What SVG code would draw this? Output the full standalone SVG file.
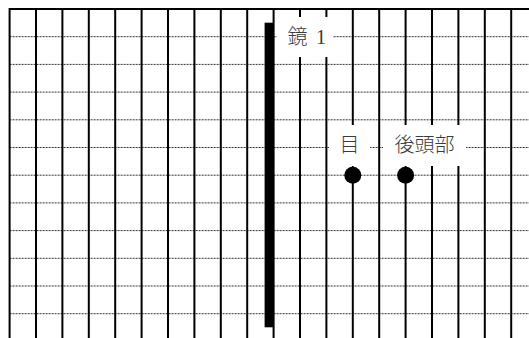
<svg xmlns="http://www.w3.org/2000/svg" width="529" height="338" viewBox="0 0 529 338">
<style>
.v{stroke:#000;stroke-width:2;fill:none}
.h{stroke:#333;stroke-width:1;stroke-dasharray:2 1;fill:none}
.box{fill:#fff;stroke:none}
.lbl{font-family:"Liberation Serif","Noto Sans CJK JP",serif;font-size:20px;font-weight:300;fill:#3a3a3a;text-anchor:middle}
.lbl.st{text-anchor:start}
.dot{fill:#000}
</style>
<rect width="529" height="338" fill="#fff"/>
<g id="grid">
<path class="h" d="M9.6 36.7H529M9.6 64.4H529M9.6 92.1H529M9.6 119.8H529M9.6 147.5H529M9.6 175.2H529M9.6 202.9H529M9.6 230.6H529M9.6 258.3H529M9.6 286H529M9.6 313.7H529"/>
<path class="v" d="M8.6 9H529M9.6 9V338M36 9V338M62.4 9V338M88.8 9V338M115.2 9V338M141.6 9V338M168 9V338M194.4 9V338M220.8 9V338M247.2 9V338M273.6 9V338M300 9V338M326.4 9V338M352.8 9V338M379.2 9V338M405.6 9V338M432 9V338M458.4 9V338M484.8 9V338M511.2 9V338"/>
</g>
<g id="connectors"></g>
<g id="mirror1">
<rect x="264.6" y="22.7" width="9" height="304.6" fill="#000"/>
</g>
<g id="label-mirror1">
<rect class="box" x="277" y="17" width="56" height="40"/>
<text class="lbl st" x="287.5" y="44">鏡 <tspan x="316">1</tspan></text>
</g>
<g id="label-eye">
<rect class="box" x="329" y="125" width="41" height="41"/>
<text class="lbl" x="349.5" y="151.5">目</text>
</g>
<g id="label-back">
<rect class="box" x="383" y="125" width="83" height="41"/>
<text class="lbl" x="424.5" y="151.5">後頭部</text>
</g>
<g id="eye">
<circle class="dot" cx="352.8" cy="175.2" r="8.5"/>
</g>
<g id="back">
<circle class="dot" cx="405.6" cy="175.2" r="8.5"/>
</g>
</svg>
